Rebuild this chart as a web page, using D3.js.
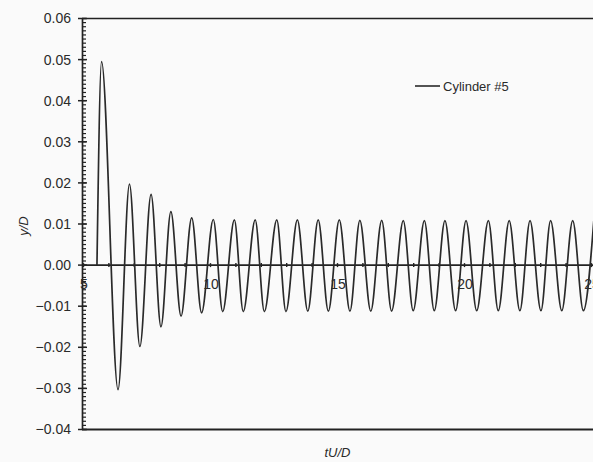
<!DOCTYPE html>
<html>
<head>
<meta charset="utf-8">
<script src="https://cdn.jsdelivr.net/npm/d3@7"></script>
<style>
  body { margin: 0; background: #fafafa; }
  svg { display: block; font-family: Arial, "Liberation Sans", sans-serif; }
</style>
</head>
<body>
<svg id="chart" width="593" height="462"></svg>
<script>
// cylinder #5 response (peaks and troughs)
var tU_D = [5.53, 5.71, 6.36, 6.81, 7.22, 7.66, 8.05, 8.44, 8.84, 9.26, 9.65, 10.11, 10.48, 10.94, 11.29, 11.76, 12.12, 12.61, 12.97, 13.42, 13.83, 14.24, 14.64, 15.07, 15.49, 15.88, 16.31, 16.74, 17.13, 17.59, 17.98, 18.42, 18.81, 19.23, 19.65, 20.06, 20.48, 20.94, 21.33, 21.76, 22.18, 22.58, 23.01, 23.39, 23.83, 24.26, 24.68, 25.09];
var y_D  = [0, 0.0495, -0.0303, 0.0197, -0.0198, 0.0172, -0.0150, 0.0130, -0.0124, 0.0115, -0.0116, 0.0111, -0.0113, 0.0110, -0.0113, 0.0110, -0.0113, 0.0110, -0.0113, 0.0110, -0.0112, 0.0110, -0.0112, 0.0110, -0.0112, 0.0109, -0.0112, 0.0109, -0.0112, 0.0108, -0.0111, 0.0108, -0.0111, 0.0108, -0.0111, 0.0108, -0.0111, 0.0108, -0.0111, 0.0108, -0.0111, 0.0108, -0.0111, 0.0108, -0.0111, 0.0108, -0.0111, 0.0108];

var xTicks = [5, 10, 15, 20, 25];
var yTicks = [0.06, 0.05, 0.04, 0.03, 0.02, 0.01, 0.00, -0.01, -0.02, -0.03, -0.04];
var seriesName = "Cylinder #5";

var data = [];
for (var i = 0; i < tU_D.length; i++) {
  data.push({ t: tU_D[i], y: y_D[i] });
}

var margin = { left: 83.5, top: 18.5 };
var svg = d3.select("#chart");
var width = 593, height = 462;

var x = d3.scaleLinear().domain([5, 25]).range([margin.left, 591.5]);
var y = d3.scaleLinear().domain([-0.04, 0.06]).range([429.5, margin.top]);

var ink = "#222";

// frame: top and bottom lines
svg.append("line")
  .attr("x1", x(5) - 1.5).attr("x2", width + 5)
  .attr("y1", y(0.06)).attr("y2", y(0.06))
  .attr("stroke", ink).attr("stroke-width", 1.6);
svg.append("line")
  .attr("x1", x(5) - 1.5).attr("x2", width + 5)
  .attr("y1", y(-0.04)).attr("y2", y(-0.04))
  .attr("stroke", ink).attr("stroke-width", 2);

// y axis
var yAxis = d3.axisLeft(y).tickValues(yTicks).tickFormat(d3.format(".2f")).tickSize(0).tickPadding(11);
var gy = svg.append("g")
  .attr("transform", "translate(" + (x(5) - 1.5) + ",0)")
  .call(yAxis);
gy.select(".domain").attr("stroke", ink).attr("stroke-width", 1.7);
gy.selectAll("text").attr("font-size", 14).attr("fill", "#2a2a2a");

// minor ticks every 0.001, major ticks crossing the axis
var minorY = d3.range(-40, 61).map(function(d) { return d / 1000; });
gy.selectAll(".minor").data(minorY).enter().append("line")
  .attr("x1", 0).attr("x2", 4)
  .attr("y1", function(d) { return y(d); }).attr("y2", function(d) { return y(d); })
  .attr("stroke", ink).attr("stroke-width", 1.2);
gy.selectAll(".major").data(yTicks).enter().append("line")
  .attr("x1", -4).attr("x2", 5)
  .attr("y1", function(d) { return y(d); }).attr("y2", function(d) { return y(d); })
  .attr("stroke", ink).attr("stroke-width", 1.5);

// x axis at y = 0
var xAxis = d3.axisBottom(x).tickValues(xTicks).tickFormat(d3.format("d")).tickSize(0).tickPadding(14);
var gx = svg.append("g")
  .attr("transform", "translate(0," + y(0) + ")")
  .call(xAxis);
gx.select(".domain").remove();
gx.append("line")
  .attr("x1", x(5) - 1.5).attr("x2", width + 5)
  .attr("stroke", ink).attr("stroke-width", 1.8);
gx.selectAll("text").attr("font-size", 14).attr("fill", "#2a2a2a");
var minorX = d3.range(5, 26);
gx.selectAll(".minor").data(minorX).enter().append("line")
  .attr("x1", function(d) { return x(d); }).attr("x2", function(d) { return x(d); })
  .attr("y1", -2).attr("y2", 2)
  .attr("stroke", ink).attr("stroke-width", 1.4);

// series
svg.append("defs").append("clipPath").attr("id", "clip")
  .append("rect").attr("x", x(5)).attr("y", y(0.06)).attr("width", width - x(5) + 5).attr("height", y(-0.04) - y(0.06));

var line = d3.line()
  .curve(d3.curveMonotoneX)
  .x(function(d) { return x(d.t); })
  .y(function(d) { return y(d.y); });

svg.append("path")
  .datum(data)
  .attr("clip-path", "url(#clip)")
  .attr("fill", "none")
  .attr("stroke", "#2a2a2a")
  .attr("stroke-width", 1.7)
  .attr("d", line);

// legend
svg.append("line")
  .attr("x1", 415).attr("x2", 440).attr("y1", 86).attr("y2", 86)
  .attr("stroke", "#2a2a2a").attr("stroke-width", 1.6);
svg.append("text")
  .attr("x", 443).attr("y", 86).attr("dy", "0.35em")
  .attr("font-size", 13).attr("fill", "#2a2a2a")
  .text(seriesName);

// axis titles
svg.append("text")
  .attr("transform", "translate(23,226) rotate(-90)")
  .attr("text-anchor", "middle").attr("dy", "0.35em")
  .attr("font-size", 13).attr("font-style", "italic").attr("fill", "#2a2a2a")
  .text("y/D");
svg.append("text")
  .attr("x", (x(5) + x(25)) / 2).attr("y", 452).attr("dy", "0.35em")
  .attr("text-anchor", "middle")
  .attr("font-size", 13).attr("font-style", "italic").attr("fill", "#2a2a2a")
  .text("tU/D");
</script>
</body>
</html>
